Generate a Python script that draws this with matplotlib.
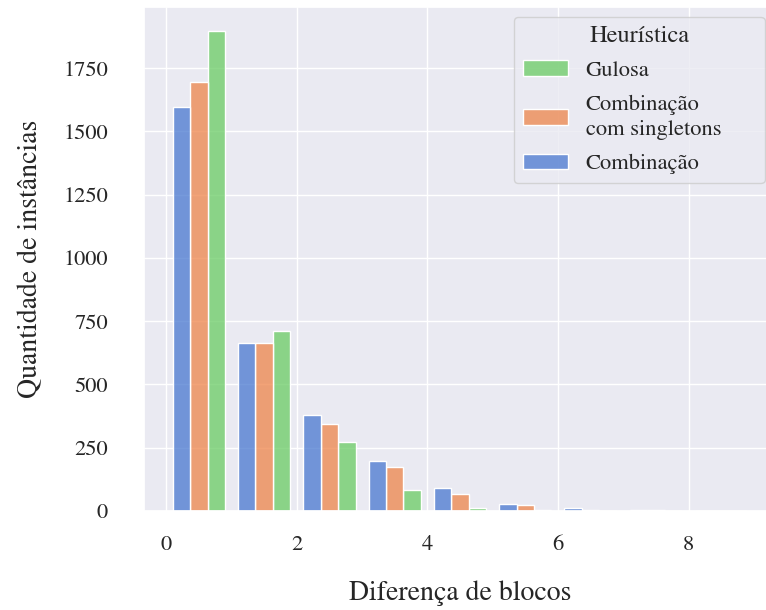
import numpy as np
import pandas as pd
import seaborn as sns
import matplotlib.pyplot as plt

# ----------------------------------------------------------------
# données : nb d'instances par différence de blocs

blocos = [0, 1, 2, 3, 4, 5, 6, 7, 8]
combinacao = [1595, 665, 378, 199, 92, 29, 10, 2, 1]
combinacao_singletons = [1697, 663, 344, 175, 66, 22, 5, 2, 0]
gulosa = [1897, 712, 274, 82, 12, 3, 1, 0, 0]

heuristicas = ['Combinação', 'Combinação com singletons', 'Gulosa']
legenda = ['Gulosa', 'Combinação\ncom singletons', 'Combinação']

df = pd.concat([
    pd.DataFrame({'diff': np.array(blocos) + 0.5, 'heur': h, 'n': v})
    for h, v in zip(heuristicas, [combinacao, combinacao_singletons, gulosa])
])

# ----------------------------------------------------------------
# plot

sns.set_theme(style='darkgrid', palette='muted')
plt.rcParams['font.family'] = 'serif'
plt.rcParams['font.serif'] = ['STIXGeneral', 'Liberation Serif', 'DejaVu Serif']

fig = plt.figure(figsize=(7.66, 6.10), dpi=100)
ax = fig.add_axes([144/766, 99/610, 632/766, 504/610])

sns.histplot(data=df, x='diff', hue='heur', weights='n', hue_order=heuristicas,
             bins=range(0, 10), multiple='dodge', shrink=0.8, ax=ax)

ax.set_xticks([0, 2, 4, 6, 8])
ax.set_yticks([0, 250, 500, 750, 1000, 1250, 1500, 1750])
ax.tick_params(axis='x', labelsize=16.2, pad=11.5)
ax.tick_params(axis='y', labelsize=16.2, pad=20)
ax.set_xlabel('Diferença de blocos', fontsize=20, labelpad=18)
ax.set_ylabel('Quantidade de instâncias', fontsize=20, labelpad=14)

handles = ax.get_legend().legend_handles
leg = ax.legend(handles[::-1], legenda, title='Heurística', loc='upper left',
                bbox_to_anchor=(0.585, 0.0, 0.397, 0.981), borderaxespad=0,
                mode='expand', fontsize=16.2, title_fontsize=17.6,
                labelspacing=0.6)
for t in leg.get_texts():
    t.set_linespacing(1.35)

fig.savefig('out.png', dpi=100)
